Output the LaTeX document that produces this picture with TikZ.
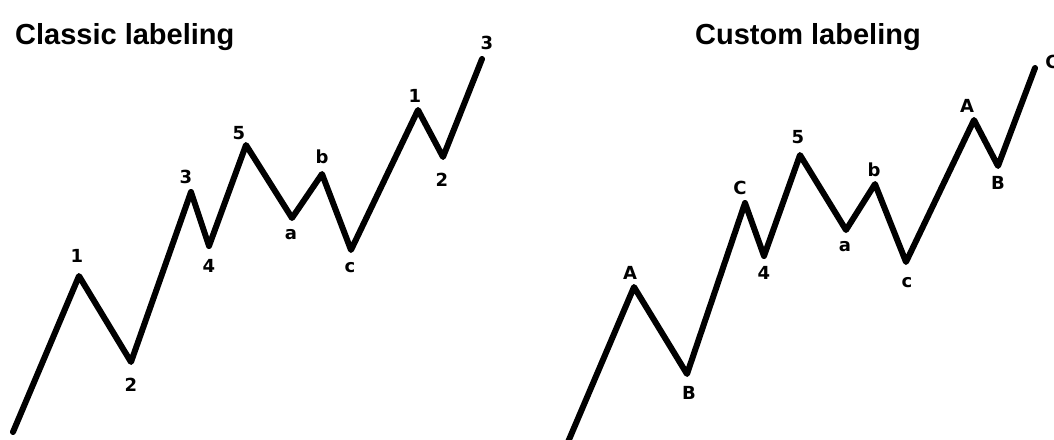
\documentclass[tikz,border=0pt]{standalone}
\usepackage{fontspec}
\setmainfont{Liberation Sans}
\newfontfamily\lblfont{DejaVu Sans}
\begin{document}
\begin{tikzpicture}[x=1pt,y=-1pt,
  wave/.style={line width=6pt, line cap=round, line join=round, black},
  lbl/.style={font=\lblfont\bfseries\fontsize{18}{18}\selectfont, inner sep=0pt},
  ttl/.style={font=\bfseries\fontsize{29}{29}\selectfont, inner sep=0pt, anchor=base west}]
\useasboundingbox (0,0) rectangle (1054,439);
\clip (0,0) rectangle (1054,439);
% titles
\node[ttl] (t1) at (15,44) {Classic labeling};
\node[ttl] (t2) at (695,44) {Custom labeling};
% left wave vertices
\coordinate (l0) at (13,432);
\coordinate (l1) at (79,276);
\coordinate (l2) at (131,362);
\coordinate (l3) at (191,192);
\coordinate (l4) at (209,246);
\coordinate (l5) at (246,145);
\coordinate (la) at (292,218);
\coordinate (lb) at (322,174);
\coordinate (lc) at (351,250);
\coordinate (l6) at (418,110);
\coordinate (l7) at (443,157);
\coordinate (l8) at (482,59);
\draw[wave] (l0) -- (l1) -- (l2) -- (l3) -- (l4) -- (l5) -- (la) -- (lb) -- (lc) -- (l6) -- (l7) -- (l8);
% left labels
\node[lbl] (n1) at (77,256) {1};
\node[lbl] (n2) at (131,385) {2};
\node[lbl] (n3) at (186,177) {3};
\node[lbl] (n4) at (209,266) {4};
\node[lbl] (n5) at (239,133) {5};
\node[lbl] (na) at (291,235) {a};
\node[lbl] (nb) at (322,157) {b};
\node[lbl] (nc) at (350,268) {c};
\node[lbl] (n6) at (415,96) {1};
\node[lbl] (n7) at (442,180) {2};
\node[lbl] (n8) at (487,43) {3};
% right wave vertices
\coordinate (r0) at (568,442);
\coordinate (r1) at (634,287);
\coordinate (r2) at (687,374);
\coordinate (r3) at (745,203);
\coordinate (r4) at (764,256);
\coordinate (r5) at (800,155);
\coordinate (ra) at (846,230);
\coordinate (rb) at (875,184);
\coordinate (rc) at (906,262);
\coordinate (r6) at (974,120);
\coordinate (r7) at (998,166);
\coordinate (r8) at (1035,68);
\draw[wave] (r0) -- (r1) -- (r2) -- (r3) -- (r4) -- (r5) -- (ra) -- (rb) -- (rc) -- (r6) -- (r7) -- (r8);
% right labels
\node[lbl] (m1) at (630,273) {A};
\node[lbl] (m2) at (689,393) {B};
\node[lbl] (m3) at (740,188) {C};
\node[lbl] (m4) at (764,273) {4};
\node[lbl] (m5) at (798,137) {5};
\node[lbl] (ma) at (845,247) {a};
\node[lbl] (mb) at (874,170) {b};
\node[lbl] (mc) at (907,283) {c};
\node[lbl] (m6) at (967,106) {A};
\node[lbl] (m7) at (998,183) {B};
\node[lbl] (m8) at (1052,62) {C};
\end{tikzpicture}
\end{document}
